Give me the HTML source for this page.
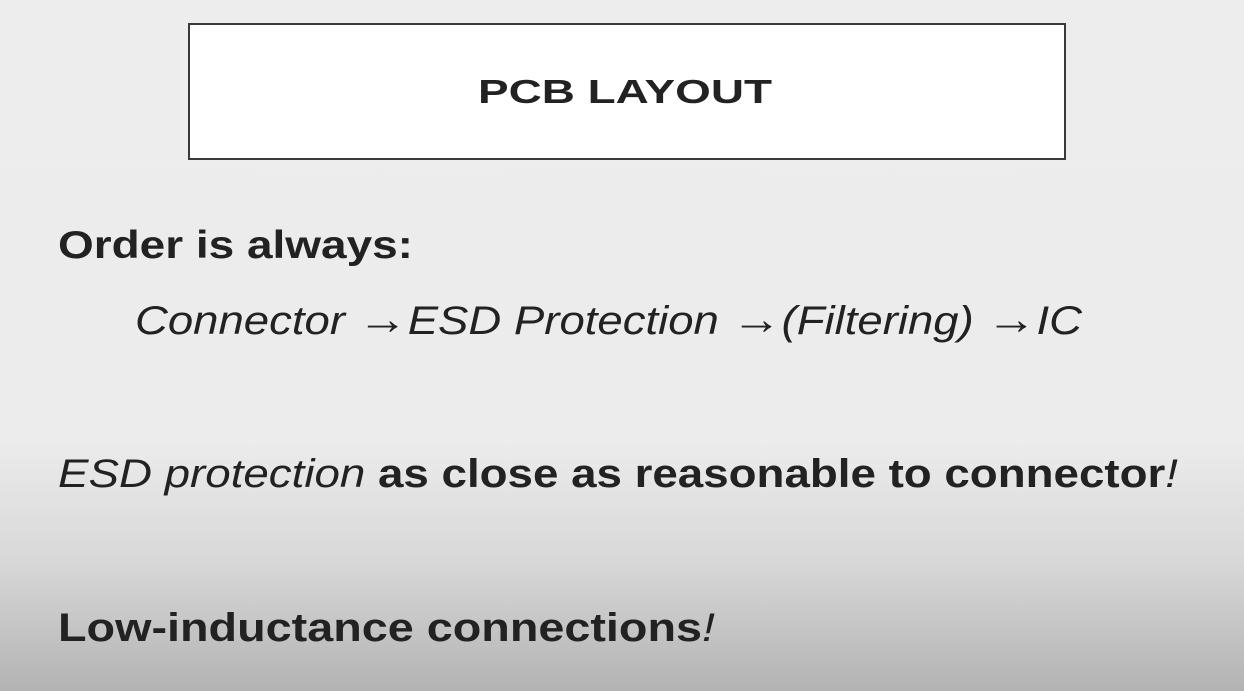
<!DOCTYPE html>
<html><head><meta charset="utf-8"><style>
html,body{margin:0;padding:0;}
body{width:1244px;height:691px;overflow:hidden;background:linear-gradient(to bottom,#ededed 0px,#ececec 440px,#d8d8d8 560px,#b3b3b3 691px);}
svg{position:absolute;left:0;top:0;}
text{font-family:"Liberation Sans",sans-serif;fill:#222;}
</style></head><body>
<svg width="1244" height="691" viewBox="0 0 1244 691">
<rect x="189" y="24" width="876" height="135" fill="#fff" stroke="#3a3a3a" stroke-width="2"/>
<text x="478" y="103" textLength="294" lengthAdjust="spacingAndGlyphs" font-size="33" font-weight="bold">PCB LAYOUT</text>
<text x="58" y="258" textLength="355" lengthAdjust="spacingAndGlyphs" font-size="39" font-weight="bold">Order is always:</text>
<text x="135" y="334" textLength="947" lengthAdjust="spacingAndGlyphs" font-size="40" font-style="italic">Connector <tspan font-size="44" font-style="normal">→</tspan>ESD Protection <tspan font-size="44" font-style="normal">→</tspan>(Filtering) <tspan font-size="44" font-style="normal">→</tspan>IC</text>
<text x="58" y="487" textLength="1120" lengthAdjust="spacingAndGlyphs" font-size="40"><tspan font-style="italic">ESD protection </tspan><tspan font-weight="bold">as close as reasonable to connector</tspan><tspan font-style="italic">!</tspan></text>
<text x="58" y="641" textLength="657" lengthAdjust="spacingAndGlyphs" font-size="40"><tspan font-weight="bold">Low-inductance connections</tspan><tspan font-style="italic">!</tspan></text>
</svg>
</body></html>
